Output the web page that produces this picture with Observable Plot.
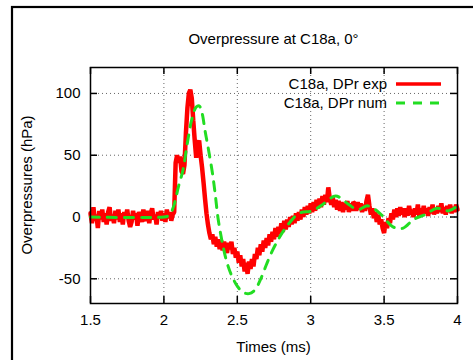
<!DOCTYPE html>
<html>
<head>
<meta charset="utf-8">
<script src="https://cdn.jsdelivr.net/npm/d3@7"></script>
<script src="https://cdn.jsdelivr.net/npm/@observablehq/plot@0.6"></script>
<style>
  html, body { margin: 0; padding: 0; background: #fff; }
  svg { font-family: "Liberation Sans", Arial, sans-serif; }
</style>
</head>
<body>
<div id="chart"></div>
<script>
// ---- Data ----
const title = "Overpressure at C18a, 0°";
const xLabel = "Times (ms)";
const yLabel = "Overpressures (hPa)";
const seriesNames = ["C18a, DPr exp", "C18a, DPr num"];
const xTicks = [1.5, 2, 2.5, 3, 3.5, 4];
const yTicks = [-50, 0, 50, 100];

// Experimental (red), sampled every 0.01 ms from 1.50 ms
const expStart = 1.5;
const expStep = 0.01;
const expValues = [
  3, -5, 8, -3, 2, -9, 5, -2, 6, -4,       // 1.50-1.59
  3, -6, 4, 8, -3, 2, -5, 5, -2, 6,        // 1.60-1.69
  -4, 3, -6, 4, -1, 6, -3, -8, -4, 5,      // 1.70-1.79
  -2, 3, -7, 4, 1, -4, 6, -1, -3, 5,       // 1.80-1.89
  -5, 3, 7, -2, 2, -6, 4, -1, 5, -3,       // 1.90-1.99
  3, -4, 6, -1, 4, -3, 2, 4, 44, 50,       // 2.00-2.09
  44, 49, 37, 35, 42, 68, 88, 100, 103, 96,   // 2.10-2.19
  78, 62, 48, 58, 62, 50, 40, 28, 15, 3,   // 2.20-2.29
  -6, -13, -18, -14, -22, -16, -24, -18, -26, -19, // 2.30-2.39
  -27, -20, -25, -29, -21, -26, -20, -30, -25, -33, // 2.40-2.49
  -28, -37, -31, -40, -34, -44, -37, -46, -36, -42, // 2.50-2.59
  -34, -40, -30, -34, -25, -31, -22, -28, -19, -25, // 2.60-2.69
  -17, -23, -14, -20, -12, -18, -9, -16, -8, -14,   // 2.70-2.79
  -5, -12, -3, -10, -2, -8, 0, -6, 1, -5,  // 2.80-2.89
  3, -3, 4, -2, 6, 0, 8, 2, 9, 3,          // 2.90-2.99
  11, 4, 12, 5, 14, 7, 15, 8, 17, 10,      // 3.00-3.09
  18, 12, 24, 15, 10, 16, 8, 14, 6, 13,    // 3.10-3.19
  5, 12, 4, 11, 6, 13, 4, 11, 5, 12,       // 3.20-3.29
  11, 5, 12, 6, 11, 4, 10, 5, 13, 18,      // 3.30-3.39
  9, 2, 7, -1, 4, -4, 2, -6, -2, -9,       // 3.40-3.49
  -13, -4, -9, -1, -5, 3, -2, 6, 0, 7,     // 3.50-3.59
  1, 8, 2, 7, 0, 7, 1, 9, 2, 6,            // 3.60-3.69
  0, 7, 2, 10, 1, 7, 2, 9, 3, 7,           // 3.70-3.79
  1, 8, 3, 10, 2, 7, 3, 9, 4, 11,          // 3.80-3.89
  3, 8, 2, 9, 4, 10, 3, 8, 4, 10,          // 3.90-3.99
  6                                        // 4.00
];

// Numerical (green dashed)
const numTimes = [1.5, 2.0, 2.03, 2.05, 2.07, 2.10, 2.13, 2.16, 2.19, 2.22, 2.24, 2.26, 2.28, 2.30,
  2.33, 2.35, 2.37, 2.40, 2.43, 2.46, 2.50, 2.54, 2.58, 2.62, 2.66, 2.70, 2.74, 2.78, 2.81,
  2.86, 2.92, 3.01, 3.08, 3.17, 3.25, 3.32, 3.39, 3.48, 3.56, 3.63, 3.70, 3.78, 3.86, 3.94, 4.0];
const numValues = [0, 0, 1, 4, 10, 25, 38, 60, 79, 89, 90, 84, 70, 57,
  36, 18, -2, -22, -37, -47, -56, -61, -62, -59, -50, -38, -27, -18, -12,
  -4, 3, 5, 10, 17, 11, 6, 9, 2, -8, -9, -2, 2, 7, 5, 9];

// ---- Build tables ----
const expData = expValues.map((v, i) => ({t: +(expStart + i * expStep).toFixed(2), v}));
const numData = numTimes.map((t, i) => ({t, v: numValues[i]}));

const W = 473, H = 360;
const mL = 90, mR = 16, mT = 67, mB = 57;
const fw = W - mL - mR, fh = H - mT - mB;
const tickLen = 7;
const red = "#ff0000", green = "#22dd22";

const chart = Plot.plot({
  width: W, height: H,
  marginLeft: mL, marginRight: mR, marginTop: mT, marginBottom: mB,
  style: {fontFamily: '"Liberation Sans", Arial, sans-serif', fontSize: "15px", color: "#000", background: "#fff"},
  x: {domain: [1.5, 4]},
  y: {domain: [-70, 121]},
  marks: [
    Plot.gridX(xTicks.slice(1, -1), {stroke: "#666", strokeOpacity: 1, strokeDasharray: "1,3"}),
    Plot.gridY(yTicks, {stroke: "#666", strokeOpacity: 1, strokeDasharray: "1,3"}),
    Plot.tickX(xTicks, {x: d => d, insetTop: fh - tickLen, stroke: "#000", strokeWidth: 1.5}),
    Plot.tickX(xTicks, {x: d => d, insetBottom: fh - tickLen, stroke: "#000", strokeWidth: 1.5}),
    Plot.tickY(yTicks, {y: d => d, insetRight: fw - tickLen, stroke: "#000", strokeWidth: 1.5}),
    Plot.tickY(yTicks, {y: d => d, insetLeft: fw - tickLen, stroke: "#000", strokeWidth: 1.5}),
    Plot.axisX(xTicks, {tickSize: 0, tickPadding: 11, label: null, tickFormat: d => String(d), fontSize: 15}),
    Plot.axisY(yTicks, {tickSize: 0, tickPadding: 10, label: null, tickFormat: d => String(d), fontSize: 15}),
    Plot.line(expData, {x: "t", y: "v", stroke: red, strokeWidth: 4.5, strokeLinejoin: "miter"}),
    Plot.line(numData, {x: "t", y: "v", stroke: green, strokeWidth: 3, strokeDasharray: "9,8", curve: "catmull-rom"}),
    Plot.frame({stroke: "#000", strokeWidth: 1.5})
  ]
});

const svg = d3.select(chart);
// outer border
svg.append("rect").attr("x", 12).attr("y", 7).attr("width", 500).attr("height", 400)
  .attr("fill", "none").attr("stroke", "#000").attr("stroke-width", 2.2);
// title
svg.append("text").attr("x", mL + fw / 2).attr("y", 40).attr("text-anchor", "middle")
  .attr("dominant-baseline", "middle").attr("font-size", 15).attr("fill", "#000").text(title);
// axis labels
svg.append("text").attr("x", mL + fw / 2).attr("y", 348).attr("text-anchor", "middle")
  .attr("dominant-baseline", "middle").attr("font-size", 15).attr("fill", "#000").text(xLabel);
svg.append("text").attr("transform", `translate(28,${mT + fh / 2}) rotate(-90)`).attr("text-anchor", "middle")
  .attr("dominant-baseline", "middle").attr("font-size", 15).attr("fill", "#000").text(yLabel);
// legend
const legColors = [red, green];
const legDash = [null, "9,8"];
seriesNames.forEach((name, i) => {
  const cy = 85 + i * 19;
  svg.append("text").attr("x", 387).attr("y", cy).attr("text-anchor", "end")
    .attr("dominant-baseline", "middle").attr("font-size", 15).attr("fill", "#000").text(name);
  svg.append("line").attr("x1", 396).attr("x2", 441).attr("y1", cy - 1).attr("y2", cy - 1)
    .attr("stroke", legColors[i]).attr("stroke-width", i === 0 ? 3.5 : 3)
    .attr("stroke-dasharray", legDash[i]);
});

document.getElementById("chart").appendChild(chart);
</script>
</body>
</html>
